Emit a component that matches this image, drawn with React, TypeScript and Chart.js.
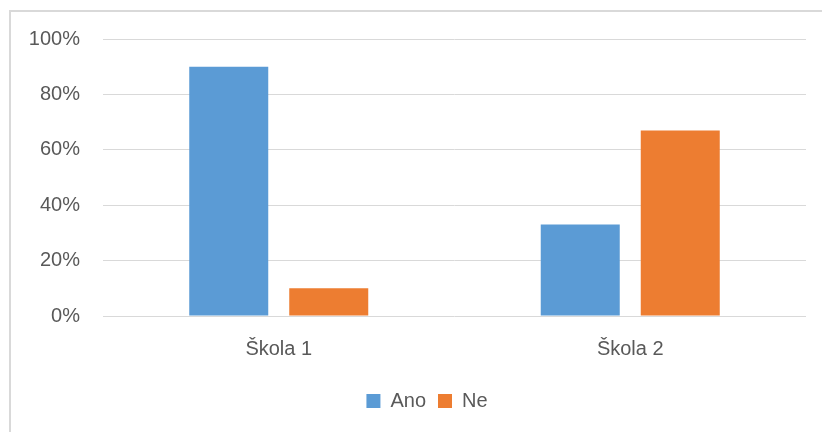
import React, { useEffect, useRef } from "react";
import { Chart, registerables } from "chart.js";

Chart.register(...registerables);

const categories = ["Škola 1", "Škola 2"];
const seriesNames = ["Ano", "Ne"];
const anoValues = [0.9, 0.33];
const neValues = [0.1, 0.67];
const yTicks = [0, 0.2, 0.4, 0.6, 0.8, 1.0];

const FONT = "'Liberation Sans', Arial, sans-serif";

const shiftLegend = {
  id: "shiftLegend",
  afterLayout(chart: any) {
    const lg = chart.legend;
    if (lg) {
      lg.left += 24;
      lg.right += 24;
    }
  },
};

export default function App() {
  const ref = useRef<HTMLCanvasElement | null>(null);

  useEffect(() => {
    if (!ref.current) return;
    const chart = new Chart(ref.current, {
      type: "bar",
      data: {
        labels: categories,
        datasets: [
          {
            label: seriesNames[0],
            data: anoValues,
            backgroundColor: "#5B9BD5",
            barPercentage: 0.79,
            categoryPercentage: 0.569,
          },
          {
            label: seriesNames[1],
            data: neValues,
            backgroundColor: "#ED7D31",
            barPercentage: 0.79,
            categoryPercentage: 0.569,
          },
        ],
      },
      options: {
        responsive: false,
        animation: false,
        layout: { padding: { left: 0, right: 16, top: 39, bottom: 11 } },
        font: { family: FONT, size: 20 },
        scales: {
          x: {
            grid: { display: false, drawTicks: false },
            border: { display: false },
            ticks: { color: "#595959", font: { family: FONT, size: 20 }, padding: 21 },
            afterFit: (s: any) => {
              s.height = 63;
            },
          },
          y: {
            min: 0,
            max: 1,
            afterBuildTicks: (s: any) => {
              s.ticks = yTicks.map((v) => ({ value: v }));
            },
            grid: { color: "#d9d9d9", lineWidth: 1, drawTicks: false },
            border: { display: false },
            ticks: {
              color: "#595959",
              font: { family: FONT, size: 20 },
              padding: 23,
              callback: (v: any) => Math.round(Number(v) * 100) + "%",
            },
            afterFit: (s: any) => {
              s.width = 103;
            },
          },
        },
        plugins: {
          legend: {
            position: "bottom",
            labels: {
              color: "#595959",
              font: { family: FONT, size: 20 },
              boxWidth: 14,
              boxHeight: 14,
              padding: 12,
            },
          },
          tooltip: { enabled: false },
        },
      },
      plugins: [shiftLegend],
    });
    return () => chart.destroy();
  }, []);

  return (
    <div
      style={{
        position: "fixed",
        left: 0,
        top: 0,
        width: 822,
        height: 432,
        overflow: "hidden",
        background: "#fff",
      }}
    >
      <div
        style={{
          position: "absolute",
          left: 9,
          top: 10,
          width: 840,
          height: 450,
          borderLeft: "2px solid #d9d9d9",
          borderTop: "2px solid #d9d9d9",
        }}
      />
      <canvas
        ref={ref}
        width={822}
        height={432}
        style={{ position: "absolute", left: 0, top: 0, width: 822, height: 432 }}
      />
    </div>
  );
}
